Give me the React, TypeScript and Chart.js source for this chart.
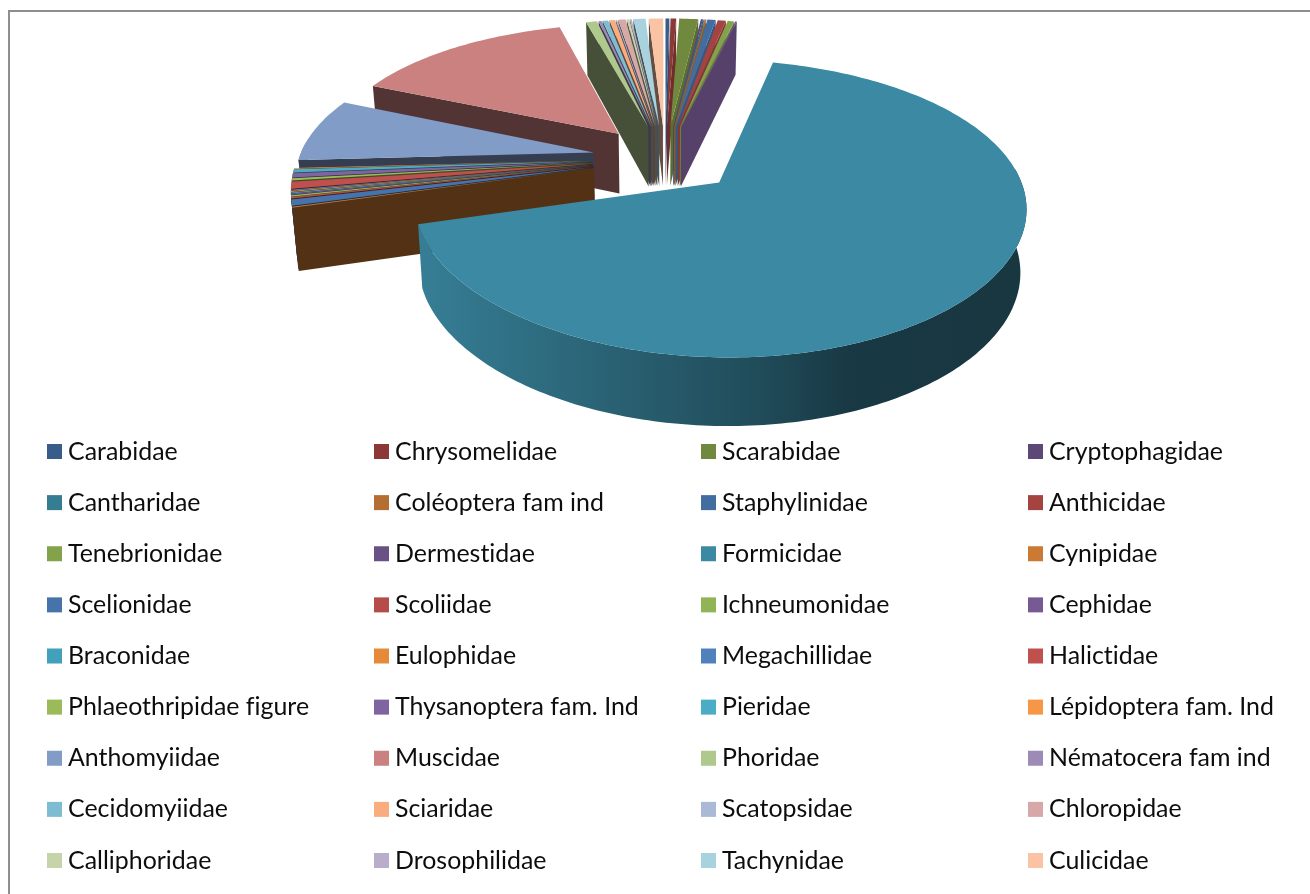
import React, { useEffect, useRef } from "react";
import { Chart, registerables } from "chart.js";

Chart.register(...registerables);

const families = [
  "Carabidae", "Chrysomelidae", "Scarabidae", "Cryptophagidae",
  "Cantharidae", "Coléoptera fam ind", "Staphylinidae", "Anthicidae",
  "Tenebrionidae", "Dermestidae", "Formicidae", "Cynipidae",
  "Scelionidae", "Scoliidae", "Ichneumonidae", "Cephidae",
  "Braconidae", "Eulophidae", "Megachillidae", "Halictidae",
  "Phlaeothripidae figure", "Thysanoptera fam. Ind", "Pieridae", "Lépidoptera fam. Ind",
  "Anthomyiidae", "Muscidae", "Phoridae", "Nématocera fam ind",
  "Cecidomyiidae", "Sciaridae", "Scatopsidae", "Chloropidae",
  "Calliphoridae", "Drosophilidae", "Tachynidae", "Culicidae",
];

const shares = [
  0.25, 0.36, 1.22, 0.14,
  0.08, 0.08, 0.53, 0.53,
  0.42, 0.1, 66.7, 0.12,
  0.69, 0.16, 0.16, 0.12,
  0.12, 0.12, 0.12, 0.77,
  0.26, 0.46, 0.36, 0.1,
  7.36, 14.3, 0.7, 0.19,
  0.36, 0.36, 0.08, 0.47,
  0.17, 0.11, 0.78, 0.92,
];

const colours = [
  "#385D8A", "#8C3836", "#71893F", "#5C4776",
  "#357D91", "#B66D31", "#426DA1", "#A44340",
  "#83A34A", "#6A5185", "#3B89A3", "#CC7A33",
  "#4674AA", "#B64C49", "#91B456", "#775A94",
  "#41A0BC", "#E58A38", "#4F81BD", "#C0504D",
  "#9BBB59", "#8064A2", "#4BACC6", "#F79646",
  "#819CC7", "#CB817F", "#AFC98C", "#9D8AB7",
  "#7EBDD1", "#F9AC7E", "#A9B9D6", "#D7A8A7",
  "#C6D5A9", "#B9ADCB", "#A9D2DF", "#FAC3A3",
];

const CX = 665, CY = 158.5, FX = 294.5, FY = 136, PERSP_X = 0.15, PERSP_Y = 0.17;
const EXPLODE = 0.248, DROP = 61, DROP_SLOPE = 6.5, BOTTOM_SCALE = 0.983;

function top(u: number, v: number) {
  return [CX + (FX * u) / (1 + PERSP_X * v), CY - (FY * v) / (1 + PERSP_Y * v)];
}
function bottom(u: number, v: number) {
  const [x, y] = top(u, v);
  return [CX + (x - CX) * BOTTOM_SCALE, y + DROP - DROP_SLOPE * v];
}
function shade(hex: string, f: number) {
  const n = parseInt(hex.slice(1), 16);
  const c = [(n >> 16) & 255, (n >> 8) & 255, n & 255].map((k) => Math.round(k * f));
  return `rgb(${c[0]},${c[1]},${c[2]})`;
}
function polygon(ctx: CanvasRenderingContext2D, pts: number[][], fill: string | CanvasGradient) {
  ctx.beginPath();
  pts.forEach((p, i) => (i ? ctx.lineTo(p[0], p[1]) : ctx.moveTo(p[0], p[1])));
  ctx.closePath();
  ctx.fillStyle = fill;
  ctx.fill();
}

const perspectivePie = {
  id: "perspectivePie",
  beforeDraw(chart: any) {
    const ctx = chart.ctx as CanvasRenderingContext2D;
    ctx.save();
    ctx.fillStyle = "#8E8E8E";
    ctx.fillRect(8, 10, 1310, 2);
    ctx.fillRect(8, 10, 2, 894);
    ctx.restore();
  },
  beforeDatasetDraw(chart: any, args: any) {
    const ctx = chart.ctx as CanvasRenderingContext2D;
    const meta = args.meta;
    const cols = chart.data.datasets[0].backgroundColor as string[];
    const slices = meta.data.map((arc: any, i: number) => {
      const a1 = arc.startAngle + Math.PI / 2;
      const a2 = arc.endAngle + Math.PI / 2;
      const m = (a1 + a2) / 2;
      return { i, a1, a2, ou: EXPLODE * Math.sin(m), ov: EXPLODE * Math.cos(m) };
    });
    slices.sort((p: any, q: any) => q.ov - p.ov);
    ctx.save();
    for (const s of slices) {
      const col = cols[s.i];
      const steps = Math.max(2, Math.ceil(((s.a2 - s.a1) * 180) / Math.PI));
      const rim: number[][] = [];
      for (let k = 0; k <= steps; k++) {
        const a = s.a1 + ((s.a2 - s.a1) * k) / steps;
        rim.push([a, s.ou + Math.sin(a), s.ov + Math.cos(a)]);
      }
      const first = rim[0], last = rim[rim.length - 1];
      // curved outer wall
      const front = rim.filter((p) => Math.cos(p[0]) < 0.1);
      if (front.length > 1) {
        const g = ctx.createLinearGradient(420, 0, 1024, 0);
        g.addColorStop(0, shade(col, 0.92));
        g.addColorStop(0.3, shade(col, 0.72));
        g.addColorStop(0.55, shade(col, 0.56));
        g.addColorStop(0.72, shade(col, 0.41));
        g.addColorStop(1, shade(col, 0.4));
        const wall = [
          ...front.map((p) => top(p[1], p[2])),
          ...front.slice().reverse().map((p) => bottom(p[1], p[2])),
        ];
        polygon(ctx, wall, g);
      }
      // radial side walls: only those turned towards the viewer
      if (Math.sin(s.a1) < 0) {
        polygon(ctx, [top(s.ou, s.ov), top(first[1], first[2]), bottom(first[1], first[2]), bottom(s.ou, s.ov)], shade(col, 0.4));
      }
      if (Math.sin(s.a2) > 0) {
        polygon(ctx, [top(s.ou, s.ov), top(last[1], last[2]), bottom(last[1], last[2]), bottom(s.ou, s.ov)], shade(col, 0.8));
      }
      // top face
      polygon(ctx, [top(s.ou, s.ov), ...rim.map((p) => top(p[1], p[2]))], col);
    }
    ctx.restore();
    return false;
  },
  afterDraw(chart: any) {
    const ctx = chart.ctx as any;
    const labels = chart.data.labels as string[];
    const cols = chart.data.datasets[0].backgroundColor as string[];
    const columnX = [47, 374, 701, 1028];
    ctx.save();
    ctx.font = "24.9px Lato";
    ctx.letterSpacing = "0.01px";
    ctx.textBaseline = "middle";
    labels.forEach((label, i) => {
      const x = columnX[i % 4];
      const y = 444 + 51.125 * Math.floor(i / 4);
      ctx.fillStyle = cols[i];
      ctx.fillRect(x, y, 15, 15);
      ctx.fillStyle = "#0D0D0D";
      ctx.fillText(label, x + 21, y + 7.5);
    });
    ctx.restore();
  },
};

export default function App() {
  const ref = useRef<HTMLCanvasElement>(null);
  useEffect(() => {
    const chart = new Chart(ref.current!, {
      type: "pie",
      data: {
        labels: families,
        datasets: [{ data: shares, backgroundColor: colours, borderWidth: 0 }],
      },
      options: {
        animation: false,
        responsive: false,
        plugins: { legend: { display: false }, tooltip: { enabled: false } },
      },
      plugins: [perspectivePie],
    } as any);
    return () => chart.destroy();
  }, []);
  return (
    <div style={{ position: "fixed", left: 0, top: 0, width: 1310, height: 894, background: "#fff" }}>
      <canvas ref={ref} width={1310} height={894} style={{ display: "block" }} />
    </div>
  );
}
